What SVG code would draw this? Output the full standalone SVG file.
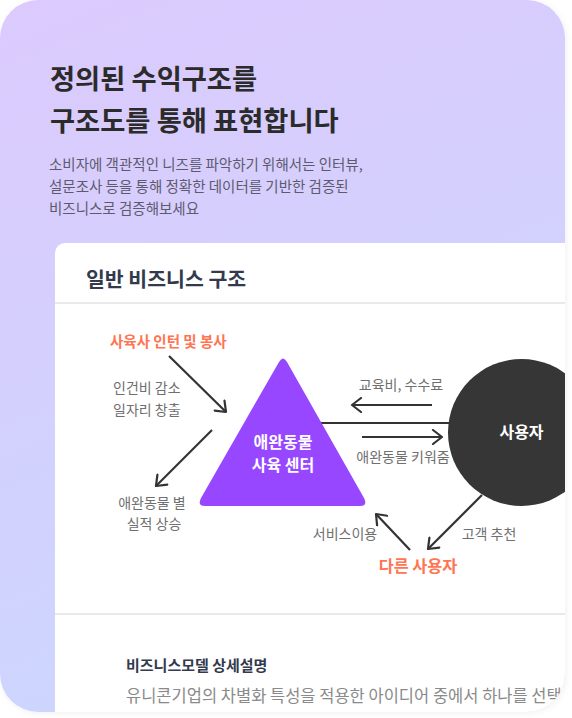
<svg xmlns="http://www.w3.org/2000/svg" width="572" height="718" viewBox="0 0 572 718">
<defs>
<linearGradient id="bg" x1="0" y1="0" x2="0.3" y2="1">
<stop offset="0" stop-color="#dccafd"/>
<stop offset="1" stop-color="#ccd6fe"/>
</linearGradient>
<clipPath id="outer"><rect x="0" y="0" width="565" height="712" rx="38"/></clipPath>
<filter id="sh" x="-5%" y="-5%" width="110%" height="110%"><feDropShadow dx="1" dy="1" stdDeviation="3" flood-color="#000" flood-opacity="0.06"/></filter>
<marker id="ah" markerWidth="14" markerHeight="16" refX="11" refY="8" orient="auto" markerUnits="userSpaceOnUse">
<path d="M2,1 L11,8 L2,15" fill="none" stroke="#333" stroke-width="2.2" stroke-linecap="round" stroke-linejoin="round"/>
</marker>
<style>
text{font-family:"Noto Sans CJK KR","Noto Sans",sans-serif}
.title{font-size:27.3px;font-weight:700;fill:#2b2b2b}
.sub{font-size:14.5px;fill:#5d5a6e}
.head{font-size:20.5px;font-weight:700;fill:#333a4d}
.lbl{font-size:14px;fill:#6f6f6f}
.orange{fill:#ff7452;font-weight:700}
.wt{fill:#fff;font-weight:700;font-size:16px}
.conn{stroke:#333;stroke-width:2.2;fill:none}
</style>
</defs>
<rect width="572" height="718" fill="#ffffff"/>
<rect x="0" y="0" width="565" height="712" rx="38" fill="url(#bg)" filter="url(#sh)"/>
<g id="header-text">
<text class="title" x="50" y="89">정의된 수익구조를</text>
<text class="title" x="50" y="131">구조도를 통해 표현합니다</text>
<text class="sub" x="49" y="170">소비자에 객관적인 니즈를 파악하기 위해서는 인터뷰,</text>
<text class="sub" x="49" y="192">설문조사 등을 통해 정확한 데이터를 기반한 검증된</text>
<text class="sub" x="49" y="214">비즈니스로 검증해보세요</text>
</g>
<g clip-path="url(#outer)">
<g id="card">
<rect x="55" y="243" width="560" height="520" rx="10" fill="#ffffff"/>
<text class="head" x="86" y="287">일반 비즈니스 구조</text>
<rect x="55" y="302" width="520" height="2" fill="#e9e9e9"/>
<rect x="55" y="613" width="520" height="2" fill="#e9e9e9"/>
</g>
<g id="connectors">
<line class="conn" x1="320" y1="423" x2="452" y2="423" stroke-width="3"/>
<line class="conn" x1="432" y1="405" x2="352" y2="405" marker-end="url(#ah)"/>
<line class="conn" x1="362" y1="437" x2="442" y2="437" marker-end="url(#ah)"/>
<line class="conn" x1="169" y1="356" x2="226" y2="412" marker-end="url(#ah)"/>
<line class="conn" x1="212" y1="430" x2="156" y2="486" marker-end="url(#ah)"/>
<line class="conn" x1="410" y1="550" x2="376" y2="514" marker-end="url(#ah)"/>
<line class="conn" x1="482" y1="495" x2="428" y2="549" marker-end="url(#ah)"/>
</g>
<g id="node-center">
<path d="M279,362 Q283,355 287,362 L364,498 Q368,506 360,506 L205,506 Q197,506 201,498 Z" fill="#9747ff"/>
<text class="wt" x="283" y="448" text-anchor="middle">애완동물</text>
<text class="wt" x="283" y="471" text-anchor="middle">사육 센터</text>
</g>
<g id="node-user">
<circle cx="521.5" cy="432.5" r="73.5" fill="#363636"/>
<text class="wt" x="521.5" y="438" text-anchor="middle" font-size="15.5">사용자</text>
</g>
<g id="node-intern">
<text class="orange" x="110" y="347" font-size="14.5">사육사 인턴 및 봉사</text>
</g>
<g id="node-other-user">
<text class="orange" x="418" y="572" font-size="16.3" text-anchor="middle">다른 사용자</text>
</g>
<g id="labels">
<text class="lbl" x="113" y="393">인건비 감소</text>
<text class="lbl" x="113" y="415">일자리 창출</text>
<text class="lbl" x="152" y="508" text-anchor="middle">애완동물 별</text>
<text class="lbl" x="154" y="529" text-anchor="middle">실적 상승</text>
<text class="lbl" x="401" y="390" text-anchor="middle" font-size="14.5">교육비, 수수료</text>
<text class="lbl" x="403" y="462" text-anchor="middle" font-size="14.3">애완동물 키워줌</text>
<text class="lbl" x="345" y="539" text-anchor="middle">서비스이용</text>
<text class="lbl" x="489" y="539" text-anchor="middle">고객 추천</text>
</g>
<g id="detail">
<text x="126" y="671" font-size="15" font-weight="700" fill="#333a4d">비즈니스모델 상세설명</text>
<text x="126" y="702" font-size="16.5" fill="#8a8a8a">유니콘기업의 차별화 특성을 적용한 아이디어 중에서 하나를 선택</text>
</g>
</g>
</svg>
